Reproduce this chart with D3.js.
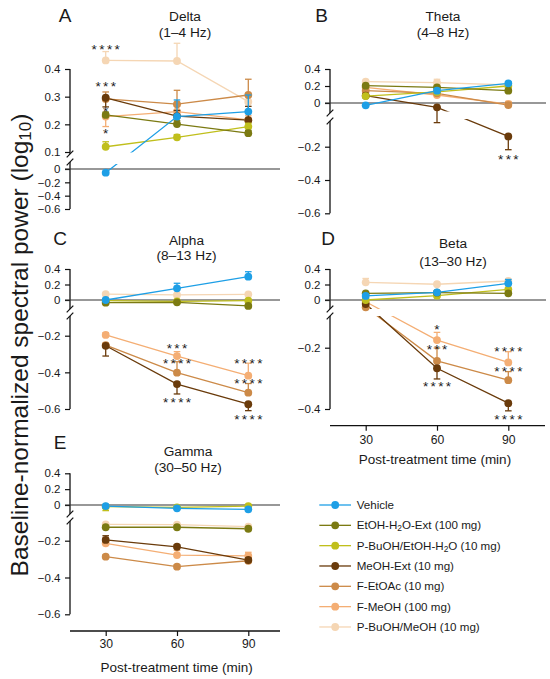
<!DOCTYPE html>
<html><head><meta charset="utf-8">
<script src="https://cdn.jsdelivr.net/npm/d3@7"></script>
<style>
body{margin:0;background:#fff}
svg{display:block}
text{font-family:"Liberation Sans",Arial,Helvetica,sans-serif;fill:#1a1a1a}
</style>
</head><body>
<svg id="chart" width="550" height="679"></svg>
<script>
// ---------- DATA ----------
const times = [30, 60, 90];
const seriesNames = ["Vehicle","EtOH-H₂O-Ext (100 mg)","P-BuOH/EtOH-H₂O (10 mg)","MeOH-Ext (10 mg)","F-EtOAc (10 mg)","F-MeOH (100 mg)","P-BuOH/MeOH (10 mg)"];
const seriesColors = ["#1E9FE6","#7B7A12","#C0BF1C","#6A3B0B","#CC8A48","#F4AE74","#F5D6B4"];

// Delta (1–4 Hz)
const deltaValues = [
  [-0.055, 0.228, 0.246],
  [0.234, 0.201, 0.168],
  [0.119, 0.153, 0.192],
  [0.296, 0.230, 0.215],
  [0.292, 0.273, 0.306],
  [0.228, 0.246, 0.216],
  [0.431, 0.429, 0.282]
];
const deltaErrors = [
  [0.008, 0.06, 0.06],
  [0.01, 0.012, 0.01],
  [0.018, 0.01, 0.012],
  [-0.033, 0.02, 0.05],
  [0.025, 0.05, 0.057],
  [-0.036, 0.02, 0.015],
  [0.032, 0.064, 0.02]
];
const deltaStars = [[30,0.481,"****"],[30,0.348,"***"],[30,0.258,"*"],[30,0.177,"*"]];

// Theta (4–8 Hz)
const thetaValues = [
  [-0.027, 0.145, 0.231],
  [0.204, 0.185, 0.145],
  [0.082, 0.13, 0.2],
  [0.086, -0.051, -0.138],
  [0.145, 0.114, -0.024],
  [0.185, 0.094, -0.012],
  [0.251, 0.239, 0.212]
];
const thetaErrors = [
  [0.01, 0.02, 0.02],
  [0.01, 0.01, 0.01],
  [0.01, 0.01, 0.01],
  [0.02, -0.18, -0.08],
  [0.02, 0.02, 0.03],
  [0.02, 0.02, 0.03],
  [0.01, 0.04, 0.01]
];
const thetaStars = [[90,-0.259,"***"]];

// Alpha (8–13 Hz)
const alphaValues = [
  [0.0, 0.151, 0.301],
  [-0.035, -0.03, -0.077],
  [-0.009, -0.017, -0.009],
  [-0.255, -0.464, -0.574],
  [-0.251, -0.402, -0.511],
  [-0.196, -0.311, -0.418],
  [0.077, 0.065, 0.073]
];
const alphaErrors = [
  [0.01, 0.065, 0.064],
  [0.01, 0.01, 0.01],
  [0.01, 0.01, 0.01],
  [-0.056, -0.054, -0.035],
  [0.01, 0.06, 0.05],
  [0.012, 0.024, 0.068],
  [0.01, 0.01, 0.01]
];
const alphaStars = [[60,-0.254,"***"],[60,-0.334,"****"],[60,-0.547,"****"],[90,-0.336,"****"],[90,-0.442,"****"],[90,-0.638,"****"]];

// Beta (13–30 Hz)
const betaValues = [
  [0.052, 0.099, 0.215],
  [0.086, 0.095, 0.086],
  [0.0, 0.056, 0.138],
  [-0.052, -0.267, -0.381],
  [-0.094, -0.243, -0.306],
  [-0.022, -0.175, -0.248],
  [0.228, 0.203, 0.245]
];
const betaErrors = [
  [0.02, 0.02, 0.05],
  [0.01, 0.01, 0.01],
  [0.01, 0.01, 0.01],
  [-0.01, -0.035, -0.025],
  [0.01, 0.042, 0.028],
  [0.01, 0.025, 0.035],
  [0.05, 0.01, 0.01]
];
const betaStars = [[60,-0.131,"*"],[60,-0.197,"***"],[60,-0.316,"****"],[90,-0.202,"****"],[90,-0.267,"****"],[90,-0.423,"****"]];

// Gamma (30–50 Hz)
const gammaValues = [
  [-0.013, -0.042, -0.055],
  [-0.127, -0.127, -0.135],
  [-0.021, -0.03, -0.013],
  [-0.196, -0.233, -0.305],
  [-0.287, -0.341, -0.309],
  [-0.214, -0.278, -0.283],
  [-0.111, -0.113, -0.124]
];
const gammaErrors = [
  [0.015, 0.01, 0.01],
  [0.005, 0.005, 0.005],
  [-0.05, 0.01, 0.01],
  [0.023, 0.01, 0.01],
  [0.01, 0.01, 0.01],
  [0.03, 0.025, 0.02],
  [0.005, 0.005, 0.005]
];
const gammaStars = [];

// Tick values
const deltaUpperTicks = [0.1, 0.2, 0.3, 0.4];
const deltaLowerTicks = [-0.6, -0.4, -0.2, 0];
const stdUpperTicks = [0, 0.2, 0.4];
const stdLowerTicks = [-0.6, -0.4, -0.2];
const betaLowerTicks = [-0.4, -0.2];
const xTickLabels = times;
const yAxisLabel = "Baseline-normalized spectral power (log";
const xAxisLabel = "Post-treatment time (min)";

// ---------- LAYOUT ----------
const panels = [
  {letter:"A", title:["Delta","(1–4 Hz)"], vals:deltaValues, errs:deltaErrors, stars:deltaStars,
   ax:70, xr:[105.7,248.3], right:280, tx:185, ty:[16,32], lp:[65,15],
   up:{dom:[0.1,0.4], rng:[152,69], ticks:deltaUpperTicks, line:[69,154]},
   lo:{dom:[-0.6,0], rng:[209,169], ticks:deltaLowerTicks, line:[162,209]},
   brk:0.05, mask:[152.5,164], zero:"lo", xaxis:null},
  {letter:"B", title:["Theta","(4–8 Hz)"], vals:thetaValues, errs:thetaErrors, stars:thetaStars,
   ax:330, xr:[365.7,508.3], right:546, tx:443, ty:[16,32], lp:[321.7,15],
   up:{dom:[0,0.4], rng:[103,69], ticks:stdUpperTicks, line:[69,113]},
   lo:{dom:[-0.6,-0.2], rng:[213.3,146.7], ticks:stdLowerTicks, line:[121,213.3]},
   brk:-0.1, mask:[111.5,119], zero:"up", xaxis:null},
  {letter:"C", title:["Alpha","(8–13 Hz)"], vals:alphaValues, errs:alphaErrors, stars:alphaStars,
   ax:70, xr:[105.7,248.3], right:280, tx:186.5, ty:[240,255.5], lp:[60,238],
   up:{dom:[0,0.4], rng:[300,269], ticks:stdUpperTicks, line:[269,309]},
   lo:{dom:[-0.6,-0.2], rng:[409,335.7], ticks:stdLowerTicks, line:[316,409]},
   brk:-0.1, mask:[309.5,316], zero:"up", xaxis:null},
  {letter:"D", title:["Beta","(13–30 Hz)"], vals:betaValues, errs:betaErrors, stars:betaStars,
   ax:330, xr:[365.7,508.3], right:546, tx:453, ty:[243,261.5], lp:[328,238],
   up:{dom:[0,0.4], rng:[300,269], ticks:stdUpperTicks, line:[269,309]},
   lo:{dom:[-0.4,-0.2], rng:[409,347.7], ticks:betaLowerTicks, line:[316,409]},
   brk:-0.1, mask:[309,316], zero:"up", xaxis:{y:425.7, x0:330, x1:545, ly:439.3, ty:459.3, tcx:435}},
  {letter:"E", title:["Gamma","(30–50 Hz)"], vals:gammaValues, errs:gammaErrors, stars:gammaStars,
   ax:70, xr:[105.7,248.3], right:280, tx:188, ty:[451,466.7], lp:[60,441.7],
   up:{dom:[0,0.4], rng:[505,473.3], ticks:stdUpperTicks, line:[473.3,514]},
   lo:{dom:[-0.6,-0.2], rng:[614.3,540.7], ticks:stdLowerTicks, line:[521,614.3]},
   brk:-0.08, mask:[514,521], zero:"up", xaxis:{y:631, x0:70, x1:280, ly:643.3, ty:666.7, tcx:176.7}}
];

const svg = d3.select("#chart");
const defs = svg.append("defs");
const R = 3.9, CAP = 3.3, STAR_FS = 13.5;
const fmt = v => v === 0 ? "0" : d3.format(".1f")(v);

panels.forEach((p, pi) => {
  const g = svg.append("g");
  const x = d3.scaleLinear().domain([times[0], times[times.length-1]]).range(p.xr);
  const yUp = d3.scaleLinear().domain(p.up.dom).range(p.up.rng);
  const yLo = d3.scaleLinear().domain(p.lo.dom).range(p.lo.rng);
  const seg = v => v >= p.brk ? yUp : yLo;

  // panel letter & title
  g.append("text").attr("x", p.lp[0]).attr("y", p.lp[1] + 6.8).attr("text-anchor","middle")
    .attr("font-size", 19).text(p.letter);
  p.title.forEach((t, i) => g.append("text").attr("x", p.tx).attr("y", p.ty[i] + 4.8)
    .attr("text-anchor","middle").attr("font-size", 13.7).text(t));

  // y axes (two segments)
  [[yUp, p.up], [yLo, p.lo]].forEach(([sc, s]) => {
    const a = g.append("g").attr("transform", `translate(${p.ax},0)`)
      .call(d3.axisLeft(sc).tickValues(s.ticks).tickFormat(fmt).tickSize(5).tickSizeOuter(0).tickPadding(4.5));
    a.select(".domain").remove();
    a.selectAll(".tick line").attr("stroke","#111").attr("stroke-width",1.2);
    a.selectAll(".tick text").attr("font-size",11.5).attr("fill","#1a1a1a")
      .attr("font-family",'"Liberation Sans",Arial,sans-serif');
    g.append("line").attr("x1",p.ax).attr("x2",p.ax).attr("y1",s.line[0]).attr("y2",s.line[1])
      .attr("stroke","#111").attr("stroke-width",1.3);
  });
  // break marks
  [p.up.line[1], p.lo.line[0]].forEach(yy => g.append("line")
    .attr("x1",p.ax-3.3).attr("y1",yy+3.4).attr("x2",p.ax+3.3).attr("y2",yy-3.4)
    .attr("stroke","#111").attr("stroke-width",1.2));

  // zero line
  const zy = (p.zero === "lo" ? yLo : yUp)(0);
  g.append("line").attr("x1",p.ax-5).attr("x2",p.right).attr("y1",zy).attr("y2",zy)
    .attr("stroke","#333").attr("stroke-width",1.1);

  // x axis
  if (p.xaxis) {
    const xa = p.xaxis;
    const a = g.append("g").attr("transform",`translate(0,${xa.y})`)
      .call(d3.axisBottom(x).tickValues(xTickLabels).tickSize(5).tickSizeOuter(0));
    a.select(".domain").remove();
    a.selectAll(".tick line").attr("stroke","#111").attr("stroke-width",1.2);
    a.selectAll(".tick text").attr("font-size",12.2).attr("fill","#1a1a1a")
      .attr("font-family",'"Liberation Sans",Arial,sans-serif')
      .attr("dy",null).attr("y", xa.ly - xa.y + 4.4);
    g.append("line").attr("x1",xa.x0).attr("x2",xa.x1).attr("y1",xa.y).attr("y2",xa.y)
      .attr("stroke","#111").attr("stroke-width",1.3);
    g.append("text").attr("x",xa.tcx).attr("y",xa.ty+4.8).attr("text-anchor","middle")
      .attr("font-size",13.5).text(xAxisLabel);
  }

  // clip for lines (gap band between segments)
  const cid = "clip" + pi;
  const cp = defs.append("clipPath").attr("id", cid);
  cp.append("rect").attr("x",0).attr("y",0).attr("width",550).attr("height",p.mask[0]);
  cp.append("rect").attr("x",0).attr("y",p.mask[1]).attr("width",550).attr("height",679-p.mask[1]);

  const order = d3.range(seriesNames.length).reverse();
  const line = d3.line().x(d => x(d.t)).y(d => seg(d.v)(d.v));
  const gl = g.append("g").attr("clip-path",`url(#${cid})`);
  order.forEach(si => {
    const pts = times.map((t, k) => ({t, v:p.vals[si][k]}));
    gl.append("path").datum(pts).attr("d", line).attr("fill","none")
      .attr("stroke", seriesColors[si]).attr("stroke-width",1.3);
  });
  order.forEach(si => {
    const col = seriesColors[si];
    const ge = g.append("g");
    times.forEach((t, k) => {
      const v = p.vals[si][k], e = p.errs[si][k], sc = seg(v);
      const xx = x(t), y0 = sc(v), y1 = sc(v + e);
      ge.append("line").attr("x1",xx).attr("x2",xx).attr("y1",y0).attr("y2",y1)
        .attr("stroke",col).attr("stroke-width",1.3);
      ge.append("line").attr("x1",xx-CAP).attr("x2",xx+CAP).attr("y1",y1).attr("y2",y1)
        .attr("stroke",col).attr("stroke-width",1.3);
    });
    ge.selectAll("circle").data(times.map((t,k)=>({t, v:p.vals[si][k]}))).join("circle")
      .attr("cx", d => x(d.t)).attr("cy", d => seg(d.v)(d.v)).attr("r", R).attr("fill", col);
  });

  // significance stars
  p.stars.forEach(([t, v, s]) => {
    g.append("text").attr("x", x(t) + 1.2).attr("y", seg(v)(v) + 0.57*STAR_FS)
      .attr("text-anchor","middle").attr("font-size",STAR_FS).attr("letter-spacing",2.4)
      .attr("fill","#1a1a1a").text(s);
  });
});

// y axis label
const yl = svg.append("text").attr("transform","translate(28,345) rotate(-90)")
  .attr("text-anchor","middle").attr("font-size",24.5);
yl.append("tspan").text(yAxisLabel);
yl.append("tspan").attr("font-size",17).attr("dy",3).text("10");
yl.append("tspan").attr("dy",-3).text(")");

// legend
const lg = svg.append("g");
seriesNames.forEach((name, i) => {
  const yy = 505 + i*20.33;
  lg.append("line").attr("x1",319.3).attr("x2",351).attr("y1",yy).attr("y2",yy)
    .attr("stroke",seriesColors[i]).attr("stroke-width",1.3);
  lg.append("circle").attr("cx",335.2).attr("cy",yy).attr("r",R).attr("fill",seriesColors[i]);
  const t = lg.append("text").attr("x",356.7).attr("y",yy+4.1).attr("font-size",11.6);
  const parts = name.split("₂");
  parts.forEach((pt, j) => {
    t.append("tspan").attr("dy", j > 0 ? -2 : null).text(pt);
    if (j < parts.length - 1) t.append("tspan").attr("font-size",8.4).attr("dy",2).text("2");
  });
});
</script>
</body></html>
